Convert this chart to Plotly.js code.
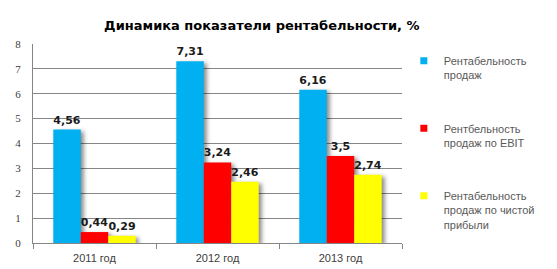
<!DOCTYPE html>
<html><head><meta charset="utf-8">
<script src="https://cdn.plot.ly/plotly-3.0.1.min.js"></script>
<style>
body{margin:0;background:#fff}
#chart{width:557px;height:269px}
.bars .point path{filter:drop-shadow(3px 2px 2px rgba(0,0,0,0.45))}
</style></head>
<body><div id="chart"></div>
<script>
const categories = ['2011 год','2012 год','2013 год'];
const seriesNames = ['Рентабельность<br>продаж','Рентбельность<br>продаж по EBIT','Рентабельность<br>продаж по чистой<br>прибыли'];
const salesMargin = [4.56, 7.31, 6.16];
const ebitMargin = [0.44, 3.24, 3.5];
const netMargin = [0.29, 2.46, 2.74];
const colors = ['#00B0F0','#FF0000','#FFFF00'];
const yTicks = [0,1,2,3,4,5,6,7,8];

const series = [salesMargin, ebitMargin, netMargin];
const traces = series.map((vals,i)=>({
  type:'bar', x:categories, y:vals, name:seriesNames[i],
  showlegend:false,
  marker:{color:colors[i]},
  text: vals.map(v=>String(v).replace('.',',')),
  textposition:'outside', cliponaxis:false,
  textfont:{family:'DejaVu Sans', size:11, color:'#1a1a1a', weight:'bold'},
  hoverinfo:'skip'
}));
// legend entries with small square symbols
series.forEach((vals,i)=>{
  traces.push({type:'scatter', mode:'markers', x:[null], y:[null], name:seriesNames[i],
    legendgroup:'g'+i, showlegend:true,
    marker:{symbol:'square', size:7, color:colors[i]}, hoverinfo:'skip'});
});

const layout = {
  width:557, height:269,
  margin:{l:33, r:155, t:44, b:26},
  paper_bgcolor:'#fff', plot_bgcolor:'#fff',
  title:{text:'<b>Динамика показатели рентабельности, %</b>', x:0.47, xanchor:'center', y:0.905, yanchor:'middle',
    font:{family:'DejaVu Sans', size:13, color:'#000'}},
  barmode:'group', bargap:0.33, bargroupgap:0,
  showlegend:true,
  legend:{x:1.005, xanchor:'left', y:0.985, yanchor:'top', tracegroupgap:36,
    font:{family:'Liberation Sans', size:11, color:'#595959'}, bgcolor:'rgba(0,0,0,0)', valign:'top',
    itemwidth:30},
  xaxis:{tickson:'boundaries', ticks:'outside', ticklen:5, tickcolor:'#868686',
    showline:true, linecolor:'#868686', linewidth:1, ticklabelstandoff:5,
    tickfont:{family:'Liberation Sans', size:11, color:'#404040'}, fixedrange:true},
  yaxis:{range:[0,8], tickvals:yTicks, ticktext:yTicks.map(String), ticks:'',
    ticklabelstandoff:9,
    showline:true, linecolor:'#868686', linewidth:1, gridcolor:'#868686', gridwidth:1, zeroline:false,
    tickfont:{family:'Liberation Serif', size:11, color:'#404040'}, fixedrange:true}
};
Plotly.newPlot('chart', traces, layout, {staticPlot:true, displayModeBar:false});
</script></body></html>
